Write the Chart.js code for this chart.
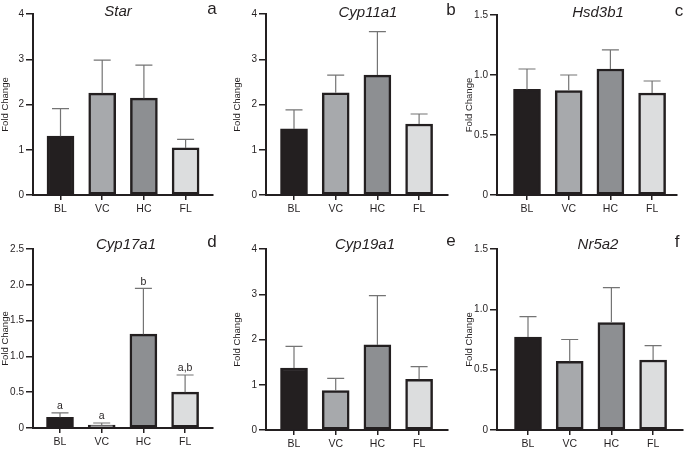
<!DOCTYPE html>
<html>
<head>
<meta charset="utf-8">
<script src="https://cdn.jsdelivr.net/npm/chart.js@4"></script>
<style>
body { margin: 0; background: #fff; width: 685px; height: 451px; position: relative; overflow: hidden; font-family: "Liberation Sans", Arial, sans-serif; }
canvas { position: absolute; }
.letter { position: absolute; font-size: 17px; color: #231f20; line-height: 1; transform: translate(-50%, -50%); }
</style>
</head>
<body>
<canvas id="c0" width="225" height="225"></canvas>
<canvas id="c1" width="223" height="225"></canvas>
<canvas id="c2" width="221" height="225"></canvas>
<canvas id="c3" width="225" height="226"></canvas>
<canvas id="c4" width="223" height="226"></canvas>
<canvas id="c5" width="221" height="226"></canvas>
<script>
var groups = ['BL', 'VC', 'HC', 'FL']
var genes = ['Star', 'Cyp11a1', 'Hsd3b1', 'Cyp17a1', 'Cyp19a1', 'Nr5a2']
var panelLetters = ['a', 'b', 'c', 'd', 'e', 'f']

var starMean = [1.30, 2.25, 2.14, 1.04]
var starErr = [0.61, 0.73, 0.73, 0.19]
var cyp11a1Mean = [1.46, 2.26, 2.65, 1.57]
var cyp11a1Err = [0.42, 0.39, 0.96, 0.22]
var hsd3b1Mean = [0.88, 0.87, 1.05, 0.85]
var hsd3b1Err = [0.17, 0.13, 0.16, 0.10]
var cyp17a1Mean = [0.15, 0.04, 1.31, 0.50]
var cyp17a1Err = [0.06, 0.03, 0.64, 0.24]
var cyp17a1Sig = ['a', 'a', 'b', 'a,b']
var cyp19a1Mean = [1.37, 0.87, 1.88, 1.12]
var cyp19a1Err = [0.48, 0.27, 1.09, 0.28]
var nr5a2Mean = [0.77, 0.57, 0.89, 0.58]
var nr5a2Err = [0.17, 0.18, 0.29, 0.12]

var yMax = [4, 4, 1.5, 2.5, 4, 1.5]
var yStep = [1, 1, 0.5, 0.5, 1, 0.5]

var means = [starMean, cyp11a1Mean, hsd3b1Mean, cyp17a1Mean, cyp19a1Mean, nr5a2Mean]
var errs = [starErr, cyp11a1Err, hsd3b1Err, cyp17a1Err, cyp19a1Err, nr5a2Err]
var sigs = [null, null, null, cyp17a1Sig, null, null]

var barColors = ['#231f20', '#a7a9ac', '#8d8f92', '#dcddde']
var ink = '#231f20'

// page layout of each panel: canvas box, plot box, first bar offset, title and letter spots
var layout = [
  { left: 0, top: 0, w: 225, h: 225, plotL: 33, plotT: 14, plotR: 213, plotB: 195, first: 27.5, titleX: 118, titleY: 12, letX: 212, letY: 8 },
  { left: 232, top: 0, w: 223, h: 225, plotL: 266, plotT: 14, plotR: 448, plotB: 195, first: 28, titleX: 368, titleY: 13, letX: 451, letY: 9 },
  { left: 464, top: 0, w: 221, h: 225, plotL: 497, plotT: 15, plotR: 677, plotB: 195, first: 30, titleX: 598, titleY: 13, letX: 679, letY: 10 },
  { left: 0, top: 225, w: 225, h: 226, plotL: 33, plotT: 249, plotR: 213, plotB: 428, first: 27, titleX: 126, titleY: 245, letX: 212, letY: 241 },
  { left: 232, top: 225, w: 223, h: 226, plotL: 266, plotT: 249, plotR: 448, plotB: 430, first: 28, titleX: 365, titleY: 245, letX: 451, letY: 240 },
  { left: 464, top: 225, w: 221, h: 226, plotL: 497, plotT: 249, plotR: 683, plotB: 430, first: 31, titleX: 598, titleY: 245, letX: 677, letY: 241 }
]
var spacing = 41.7

var extras = {
  id: 'extras',
  afterDatasetsDraw: function (chart, args, opts) {
    var ctx = chart.ctx
    var y = chart.scales.y
    var meta = chart.getDatasetMeta(0)
    ctx.save()
    meta.data.forEach(function (bar, i) {
      var top = y.getPixelForValue(opts.means[i] + opts.errs[i])
      ctx.strokeStyle = '#747474'
      ctx.lineWidth = 1.2
      ctx.beginPath()
      ctx.moveTo(bar.x, bar.y)
      ctx.lineTo(bar.x, top)
      ctx.moveTo(bar.x - 8.5, top)
      ctx.lineTo(bar.x + 8.5, top)
      ctx.stroke()
      if (opts.sig) {
        ctx.fillStyle = ink
        ctx.font = '10.5px "Liberation Sans", Arial'
        ctx.textAlign = 'center'
        ctx.textBaseline = 'bottom'
        ctx.fillText(opts.sig[i], bar.x, top - 1.5)
      }
    })
    ctx.fillStyle = ink
    ctx.font = 'italic 15px "Liberation Sans", Arial'
    ctx.textAlign = 'center'
    ctx.textBaseline = 'middle'
    ctx.fillText(opts.title, opts.tx, opts.ty)
    ctx.restore()
  }
}

function fmt (v) {
  if (v === 0) return '0'
  return this.options.ticks.stepSize < 1 ? v.toFixed(1) : String(v)
}

genes.forEach(function (gene, k) {
  var L = layout[k]
  var cv = document.getElementById('c' + k)
  cv.style.left = L.left + 'px'
  cv.style.top = L.top + 'px'

  var div = document.createElement('div')
  div.className = 'letter'
  div.textContent = panelLetters[k]
  div.style.left = L.letX + 'px'
  div.style.top = L.letY + 'px'
  document.body.appendChild(div)

  var xMin = -L.first / spacing
  var xMax = xMin + (L.plotR - L.plotL) / spacing

  new Chart(cv.getContext('2d'), {
    type: 'bar',
    data: {
      datasets: [
        {
          data: means[k].map(function (v, i) { return { x: i, y: v } }),
          backgroundColor: barColors,
          borderColor: ink,
          borderWidth: 2.5,
          borderSkipped: false,
          barThickness: 27
        }
      ]
    },
    options: {
      responsive: false,
      animation: false,
      layout: { padding: { top: L.plotT - L.top, right: L.left + L.w - L.plotR, left: 0, bottom: 0 } },
      plugins: {
        legend: { display: false },
        tooltip: { enabled: false },
        extras: {
          means: means[k],
          errs: errs[k],
          sig: sigs[k],
          title: gene,
          tx: L.titleX - L.left,
          ty: L.titleY - L.top
        }
      },
      scales: {
        x: {
          type: 'linear',
          offset: false,
          min: xMin,
          max: xMax,
          afterBuildTicks: function (s) {
            s.ticks = groups.map(function (g, i) { return { value: i } })
          },
          ticks: {
            callback: function (v) { return groups[v] },
            font: { size: 10.5, family: '"Liberation Sans", Arial' },
            color: ink,
            padding: 3,
            autoSkip: false,
            maxRotation: 0
          },
          grid: { drawOnChartArea: false, tickLength: 5, color: ink, lineWidth: 1.5, offset: false },
          border: { color: ink, width: 2 },
          afterFit: function (s) { s.height = L.top + L.h - L.plotB }
        },
        y: {
          min: 0,
          max: yMax[k],
          ticks: {
            stepSize: yStep[k],
            callback: fmt,
            font: { size: 10, family: '"Liberation Sans", Arial' },
            color: ink,
            padding: 2
          },
          grid: { drawOnChartArea: false, tickLength: 7, color: ink, lineWidth: 1.5 },
          border: { color: ink, width: 2 },
          title: {
            display: true,
            text: 'Fold Change',
            font: { size: 9.5, family: '"Liberation Sans", Arial' },
            color: ink,
            padding: 0
          },
          afterFit: function (s) { s.width = L.plotL - L.left }
        }
      }
    },
    plugins: [extras]
  })
})
</script>
</body>
</html>
